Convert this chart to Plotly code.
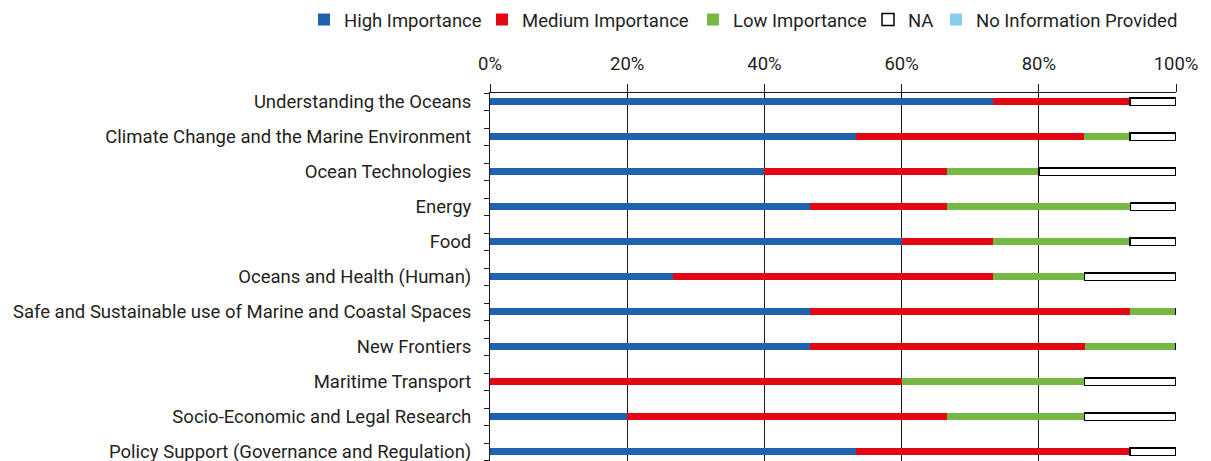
import plotly.graph_objects as go

categories = [
    "Understanding the Oceans",
    "Climate Change and the Marine Environment",
    "Ocean Technologies",
    "Energy",
    "Food",
    "Oceans and Health (Human)",
    "Safe and Sustainable use of Marine and Coastal Spaces",
    "New Frontiers",
    "Maritime Transport",
    "Socio-Economic and Legal Research",
    "Policy Support (Governance and Regulation)",
]
high = [73.33, 53.33, 40.0, 46.67, 60.0, 26.67, 46.67, 46.67, 0.0, 20.0, 53.33]
medium = [20.0, 33.33, 26.67, 20.0, 13.33, 46.67, 46.67, 40.0, 60.0, 46.67, 40.0]
low = [0.0, 6.67, 13.33, 26.67, 20.0, 13.33, 6.67, 13.33, 26.67, 20.0, 0.0]
na = [6.67, 6.67, 20.0, 6.67, 6.67, 13.33, 0.0, 0.0, 13.33, 13.33, 6.67]
no_info = [0.0] * 11
x_ticks = [0, 20, 40, 60, 80, 100]
x_tick_labels = ["0%", "20%", "40%", "60%", "80%", "100%"]

pos = [i + 0.25 for i in range(len(categories))]
FONT = "Roboto"
TXT = "#231f20"
FS = 18.5

# the page body adds an 8px offset; the figure is sized to fit the window
W, H = 1203, 453

series = [
    ("High Importance", high, "#1f62b0", "#1f62b0", 0),
    ("Medium Importance", medium, "#e30613", "#e30613", 0),
    ("Low Importance", low, "#76b843", "#76b843", 0),
    ("NA", na, "#ffffff", "#000000", 1.5),
    ("No Information Provided", no_info, "#86cdee", "#86cdee", 0),
]
legend_x = [296, 474, 685, 860, 928]

fig = go.Figure()
legends = {}
for k, (name, vals, fill, line, lw) in enumerate(series):
    lname = "legend" if k == 0 else f"legend{k + 1}"
    fig.add_trace(go.Bar(
        x=vals, y=pos, name=name, orientation="h", width=0.21,
        marker=dict(color=fill, line=dict(color=line, width=lw)),
        legend=lname, showlegend=True,
    ))
    legends[lname] = dict(
        orientation="h", xref="container", x=legend_x[k] / W, xanchor="left",
        yref="container", y=1 - 12 / H, yanchor="middle",
        font=dict(size=FS, color=TXT), itemwidth=30,
        bgcolor="rgba(0,0,0,0)",
    )

fig.update_layout(
    width=W, height=H,
    barmode="stack",
    showlegend=True,
    plot_bgcolor="white", paper_bgcolor="white",
    margin=dict(l=482, r=35, t=85, b=0, autoexpand=False),
    font=dict(family=FONT, size=FS, color=TXT),
    xaxis=dict(
        side="top", range=[0, 100], tickmode="array", tickvals=x_ticks,
        ticktext=x_tick_labels,
        showgrid=True, gridcolor="#1a1a1a", gridwidth=1,
        showline=True, linecolor="#1a1a1a", linewidth=1,
        ticks="outside", ticklen=8, tickcolor="#1a1a1a",
        zeroline=False, ticklabelstandoff=7,
    ),
    yaxis=dict(
        range=[(461 - 93) / 35, 0], tickvals=pos, ticktext=categories,
        showgrid=False, zeroline=False,
        showline=True, linecolor="#1a1a1a", linewidth=1,
        ticks="", ticklabelstandoff=14, ticklabeloverflow="allow",
        minor=dict(tickmode="linear", tick0=0, dtick=0.5, ticks="outside",
                   ticklen=5, tickcolor="#1a1a1a", showgrid=False),
    ),
    **legends,
)

fig.write_html("out.html")
